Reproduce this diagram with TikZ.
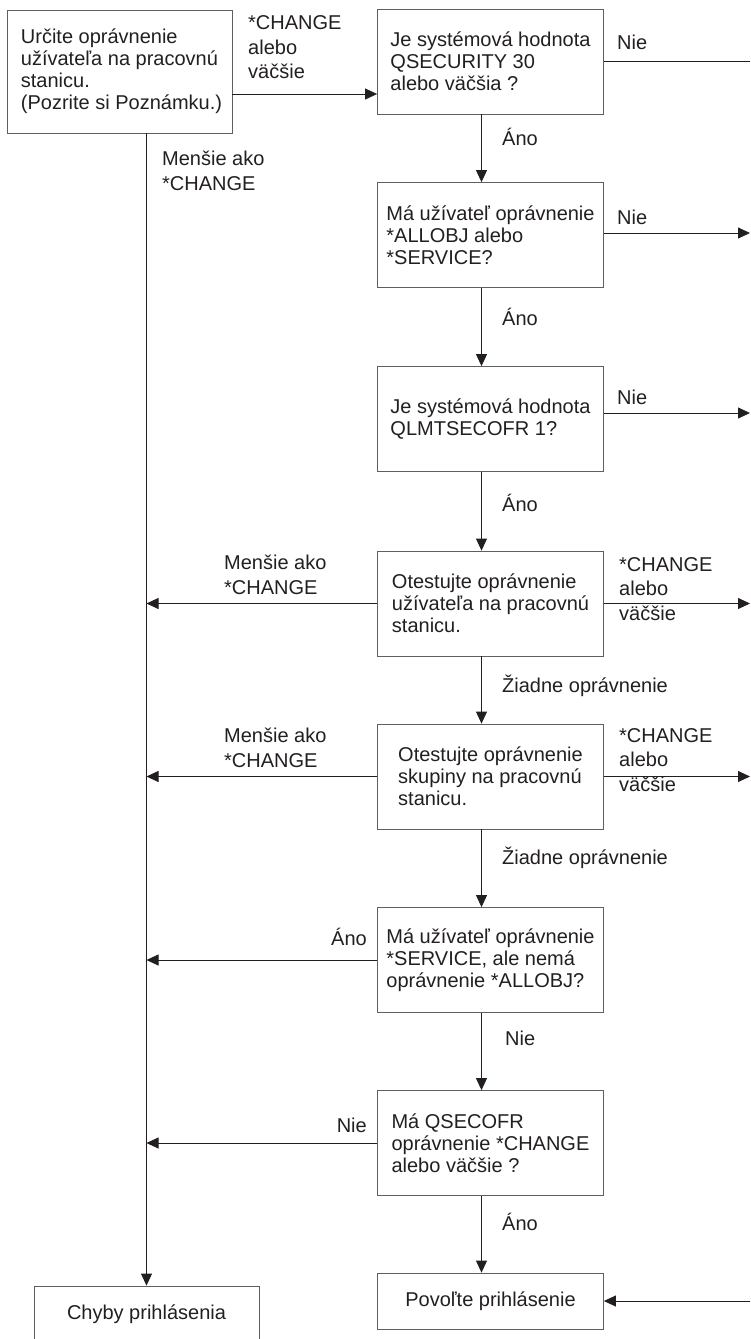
\documentclass[tikz,border=0pt]{standalone}
\usepackage{fontspec}
\setmainfont{Liberation Sans}
\usepackage{tikz}
\usetikzlibrary{arrows.meta, positioning, calc}
\definecolor{ink}{RGB}{35, 31, 32}
\definecolor{frame}{RGB}{95, 95, 95}
\tikzstyle{step box} = [rectangle, draw=frame, line width=0.8pt, align=left, minimum width=226pt, minimum height=105pt, inner sep=0pt]
\tikzstyle{lbl} = [align=left, inner sep=0pt, font=\fontsize{20}{24.5}\selectfont]
\tikzstyle{link} = [draw=ink, line width=0.8pt]
\tikzstyle{arrow} = [link, -{Triangle[length=12pt,width=11pt]}]

\begin{document}
\begin{tikzpicture}[x=1pt, y=-1pt, font=\fontsize{20}{22}\selectfont, text=ink]
    \useasboundingbox (0,0) rectangle (750,1339);
    \coordinate (edge) at (750,0);

    % Start box and the right column of checks
    \node[step box, minimum width=225pt, minimum height=123pt] (start) at (119.5,71.5) {
        \hspace*{4pt}Určite oprávnenie\\
        \hspace*{4pt}užívateľa na pracovnú\\
        \hspace*{4pt}stanicu.\\
        \hspace*{4pt}(Pozrite si Poznámku.)
    };
    \node[step box] (qsec) at (490.5,61.5) {Je systémová hodnota\\QSECURITY 30\\alebo väčšia ?};
    \node[step box] (allobj) at (490.5,235) {Má užívateľ oprávnenie\\*ALLOBJ alebo\\*SERVICE?};
    \node[step box] (qlmt) at (490.5,419) {Je systémová hodnota\\QLMTSECOFR 1?};
    \node[step box] (usertest) at (490.5,603.5) {Otestujte oprávnenie\\užívateľa na pracovnú\\stanicu.};
    \node[step box] (grouptest) at (490.5,776.5) {Otestujte oprávnenie\\skupiny na pracovnú\\stanicu.};
    \node[step box] (service) at (490.5,960) {Má užívateľ oprávnenie\\*SERVICE, ale nemá\\oprávnenie *ALLOBJ?};
    \node[step box] (secofr) at (490.5,1143) {Má QSECOFR\\oprávnenie *CHANGE\\alebo väčšie ?};
    \node[step box, minimum height=56pt] (allow) at (490.5,1301) {Povoľte prihlásenie};
    \node[step box, minimum width=225pt, minimum height=56pt] (fail) at (146.5,1314) {Chyby prihlásenia};

    % Downward flow
    \draw[arrow] ([yshift=-22.5pt]start.east) -- ([yshift=-22.5pt]start.east -| qsec.west);
    \foreach \a/\b in {qsec/allobj, allobj/qlmt, qlmt/usertest, usertest/grouptest, grouptest/service, service/secofr, secofr/allow}
        \draw[arrow] ([xshift=-9pt]\a.south) -- ([xshift=-9pt]\b.north);
    \draw[arrow] (fail.north |- start.south) -- (fail.north);

    % Exits to the right edge
    \draw[link] (qsec.east) -- (qsec.east -| edge);
    \draw[arrow] ([yshift=2pt]allobj.east) -- ([yshift=2pt]allobj.east -| edge);
    \draw[arrow] ([yshift=6pt]qlmt.east) -- ([yshift=6pt]qlmt.east -| edge);
    \draw[arrow] (usertest.east) -- (usertest.east -| edge);
    \draw[arrow] (grouptest.east) -- (grouptest.east -| edge);
    \draw[arrow] (allow.east -| edge) -- (allow.east);

    % Exits to the left line
    \foreach \n in {usertest, grouptest, service, secofr}
        \draw[arrow] (\n.west) -- (\n.west -| fail.north);

    % Labels
    \node[lbl, anchor=west] (chgtop) at (248,47.5) {*CHANGE\\alebo\\väčšie};
    \node[lbl, anchor=west] (lesstop) at (162,171) {Menšie ako\\*CHANGE};
    \node[lbl, anchor=west] (nie1) at (617,42) {Nie};
    \node[lbl, anchor=west] (ano1) at (502,137) {Áno};
    \node[lbl, anchor=west] (nie2) at (617,217) {Nie};
    \node[lbl, anchor=west] (ano2) at (502,317) {Áno};
    \node[lbl, anchor=west] (nie3) at (617,397) {Nie};
    \node[lbl, anchor=west] (ano3) at (502,503) {Áno};
    \node[lbl, anchor=west] (less1) at (224,575) {Menšie ako\\*CHANGE};
    \node[lbl, anchor=west] (chg1) at (619,589) {*CHANGE\\alebo\\väčšie};
    \node[lbl, anchor=west] (none1) at (502,686) {Žiadne oprávnenie};
    \node[lbl, anchor=west] (less2) at (224,748) {Menšie ako\\*CHANGE};
    \node[lbl, anchor=west] (chg2) at (619,760) {*CHANGE\\alebo\\väčšie};
    \node[lbl, anchor=west] (none2) at (502,858) {Žiadne oprávnenie};
    \node[lbl, anchor=east] (ano4) at (367,937) {Áno};
    \node[lbl, anchor=west] (nie4) at (505,1038) {Nie};
    \node[lbl, anchor=east] (nie5) at (367,1125) {Nie};
    \node[lbl, anchor=west] (ano5) at (502,1222) {Áno};
\end{tikzpicture}
\end{document}
